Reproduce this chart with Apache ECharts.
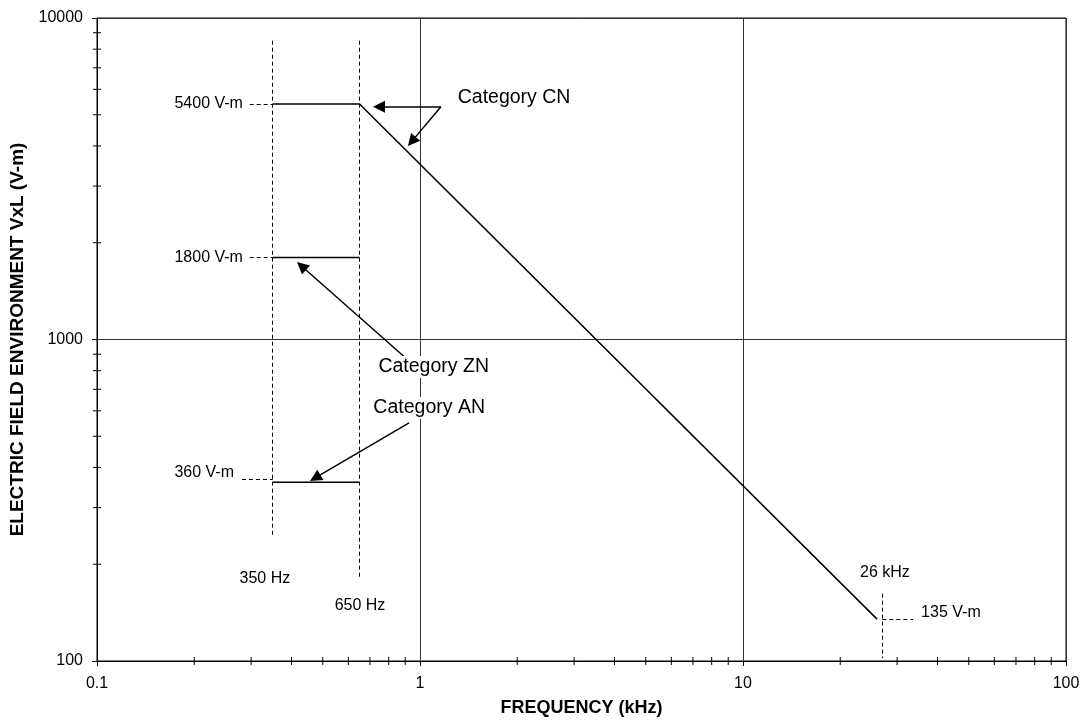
<!DOCTYPE html>
<html>
<head>
<meta charset="utf-8">
<script src="https://cdn.jsdelivr.net/npm/echarts@6/dist/echarts.min.js"></script>
<style>
  html, body { margin: 0; padding: 0; background: #fff; }
  #chart { width: 1084px; height: 722px; }
</style>
</head>
<body>
<div id="chart"></div>
<script>
// limit curves (frequency kHz, V-m)
var cnLine = [[0.35, 5400], [0.65, 5400], [26, 135]];
var znLine = [[0.35, 1800], [0.65, 1800]];
var anLine = [[0.35, 360], [0.65, 360]];

// dashed guide segments
var guides = [
  [[0.35, 8500], [0.35, 246]],
  [[0.65, 8500], [0.65, 182]],
  [[0.297, 5400], [0.35, 5400]],
  [[0.297, 1800], [0.35, 1800]],
  [[0.281, 368], [0.35, 368]],
  [[27, 162], [27, 102]],
  [[27, 135], [33.6, 135]]
];

// annotation arrows (from, to)
var arrows = [
  [[1.161, 5300], [0.7465, 5300]],
  [[1.161, 5300], [0.943, 4133]],
  [[0.925, 857], [0.4296, 1693]],
  [[0.925, 550], [0.4737, 371]]
];

// minor tick values
var xMinor = [0.2, 0.3, 0.4, 0.5, 0.6, 0.7, 0.8, 0.9,
              2, 3, 4, 5, 6, 7, 8, 9,
              20, 30, 40, 50, 60, 70, 80, 90];
var yMinor = [200, 300, 400, 500, 600, 700, 800, 900,
              2000, 3000, 4000, 5000, 6000, 7000, 8000, 9000];

// text labels
var leftLabels = [
  { name: '5400 V-m', value: [0.283, 5400] },
  { name: '1800 V-m', value: [0.283, 1800] },
  { name: '360 V-m', value: [0.2655, 385] }
];
var centerLabels = [
  { name: '350 Hz', value: [0.331, 181] },
  { name: '650 Hz', value: [0.652, 149] },
  { name: '26 kHz', value: [27.5, 188] }
];
var rightLabels = [
  { name: '135 V-m', value: [35.6, 141] }
];
var categoryLabels = [
  { name: 'Category CN', value: [1.29, 5640] },
  { name: 'Category ZN', value: [0.733, 821] },
  { name: 'Category AN', value: [0.707, 612] }
];

var font = 'Arial, "Liberation Sans", Helvetica, sans-serif';

function fmt(v) {
  return String(Number((+v).toPrecision(6)));
}

var chart = echarts.init(document.getElementById('chart'));

var option = {
  animation: false,
  textStyle: { fontFamily: font },
  grid: {
    left: 97, right: 18, top: 18, bottom: 61,
    show: true, borderColor: '#000', borderWidth: 1, backgroundColor: 'transparent'
  },
  xAxis: {
    type: 'log', logBase: 10, min: 0.1, max: 100,
    name: 'FREQUENCY (kHz)', nameLocation: 'middle', nameGap: 38,
    nameTextStyle: { fontSize: 18, fontWeight: 'bold', color: '#000', fontFamily: font },
    axisLine: { show: true, lineStyle: { color: '#000', width: 1 } },
    axisTick: { show: true, length: 5, lineStyle: { color: '#000' } },
    axisLabel: { fontSize: 16, color: '#000', margin: 15, formatter: fmt, fontFamily: font },
    splitLine: { show: true, lineStyle: { color: '#333', width: 1 } }
  },
  yAxis: {
    type: 'log', logBase: 10, min: 100, max: 10000,
    name: 'ELECTRIC FIELD ENVIRONMENT VxL (V-m)', nameLocation: 'middle', nameGap: 67,
    nameTextStyle: { fontSize: 19, fontWeight: 'bold', color: '#000', fontFamily: font },
    axisLine: { show: true, lineStyle: { color: '#000', width: 1 } },
    axisTick: { show: true, length: 5, lineStyle: { color: '#000' } },
    axisLabel: { fontSize: 16, color: '#000', margin: 14, formatter: fmt, fontFamily: font },
    splitLine: { show: true, lineStyle: { color: '#333', width: 1 } }
  },
  series: [
    {
      type: 'custom', name: 'xMinor', clip: false, silent: true,
      data: xMinor.map(function (v) { return [v, 100]; }),
      renderItem: function (params, api) {
        var p = api.coord([api.value(0), 100]);
        return { type: 'line', shape: { x1: p[0], y1: p[1] - 4, x2: p[0], y2: p[1] + 4 },
                 style: { stroke: '#000', lineWidth: 1 } };
      }
    },
    {
      type: 'custom', name: 'yMinor', clip: false, silent: true,
      data: yMinor.map(function (v) { return [0.1, v]; }),
      renderItem: function (params, api) {
        var p = api.coord([0.1, api.value(1)]);
        return { type: 'line', shape: { x1: p[0] - 4, y1: p[1], x2: p[0] + 4, y2: p[1] },
                 style: { stroke: '#000', lineWidth: 1 } };
      }
    },
    {
      type: 'lines', coordinateSystem: 'cartesian2d', silent: true,
      data: guides.map(function (g) { return { coords: g }; }),
      lineStyle: { color: '#000', width: 1, type: [4, 3], opacity: 1 }
    },
    {
      type: 'line', data: cnLine, symbol: 'none', silent: true,
      lineStyle: { color: '#000', width: 1.5 }
    },
    {
      type: 'line', data: znLine, symbol: 'none', silent: true,
      lineStyle: { color: '#000', width: 1.5 }
    },
    {
      type: 'line', data: anLine, symbol: 'none', silent: true,
      lineStyle: { color: '#000', width: 1.5 }
    },
    {
      type: 'lines', coordinateSystem: 'cartesian2d', silent: true,
      data: arrows.map(function (a) { return { coords: a }; }),
      symbol: ['none', 'triangle'], symbolSize: [9, 12],
      lineStyle: { color: '#000', width: 1.5, opacity: 1 },
      itemStyle: { color: '#000', opacity: 1 }
    },
    {
      type: 'scatter', data: leftLabels, symbolSize: 0, silent: true, z: 5,
      itemStyle: { opacity: 1 },
      label: { show: true, position: 'left', distance: 0, formatter: '{b}', opacity: 1,
               fontSize: 16, color: '#000', fontFamily: font }
    },
    {
      type: 'scatter', data: centerLabels, symbolSize: 0, silent: true, z: 5,
      itemStyle: { opacity: 1 },
      label: { show: true, position: 'inside', formatter: '{b}', opacity: 1,
               fontSize: 16, color: '#000', fontFamily: font }
    },
    {
      type: 'scatter', data: rightLabels, symbolSize: 0, silent: true, z: 5,
      itemStyle: { opacity: 1 },
      label: { show: true, position: 'right', distance: 0, formatter: '{b}', opacity: 1,
               fontSize: 16, color: '#000', fontFamily: font }
    },
    {
      type: 'scatter', data: categoryLabels, symbolSize: 0, silent: true, z: 6,
      itemStyle: { opacity: 1 },
      label: { show: true, position: 'right', distance: 0, formatter: '{b}', opacity: 1,
               fontSize: 19.5, color: '#000', fontFamily: font,
               backgroundColor: '#fff', padding: [1, 2] }
    }
  ]
};

chart.setOption(option);
</script>
</body>
</html>
